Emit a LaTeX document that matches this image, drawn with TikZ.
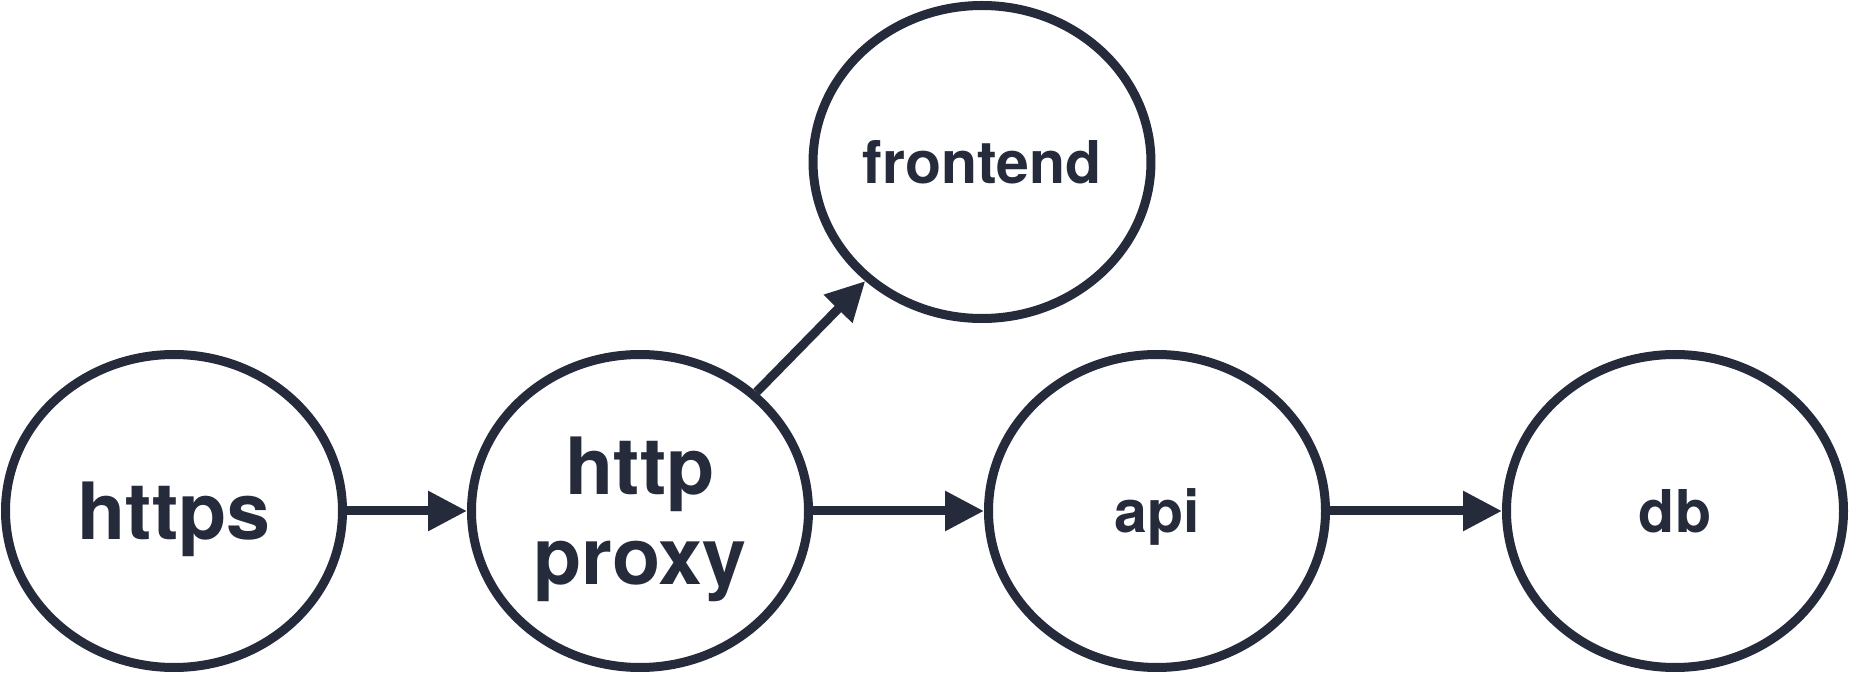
\documentclass[tikz,border=0pt]{standalone}
\usepackage{fontspec}
\setmainfont{TeX Gyre Heros}
\usetikzlibrary{arrows.meta,shapes.geometric}
\definecolor{ink}{RGB}{37,43,58}
\tikzset{
  svc/.style={ellipse,draw=ink,line width=4.5pt,minimum width=168.5pt,minimum height=156.5pt,
    inner sep=0pt,text=ink,align=center,font=\bfseries\fontsize{29.5}{38}\selectfont,
    text height=29pt,text depth=7.5pt},
  big/.style={font=\bfseries\fontsize{39.5}{45}\selectfont,text height=37.5pt,text depth=8.5pt},
  link/.style={->,draw=ink,line width=4.5pt}
}
\begin{document}
\begin{tikzpicture}[x=0.5pt,y=-0.5pt,>={Triangle[length=19.5pt,width=19pt]}]
\useasboundingbox (0,0) rectangle (1849,673);
\node[svc,big] (https) at (174,511) {https};
\node[svc,big,text height=82.5pt] (proxy) at (640,511) {http\\proxy};
\node[svc] (frontend) at (982,162) {frontend};
\node[svc] (api) at (1157,511) {api};
\node[svc] (db) at (1675,511) {db};

\draw[link] (https)--(proxy);
\draw[link] (proxy)--(frontend);
\draw[link] (proxy)--(api);
\draw[link] (api)--(db);

\end{tikzpicture}
\end{document}
